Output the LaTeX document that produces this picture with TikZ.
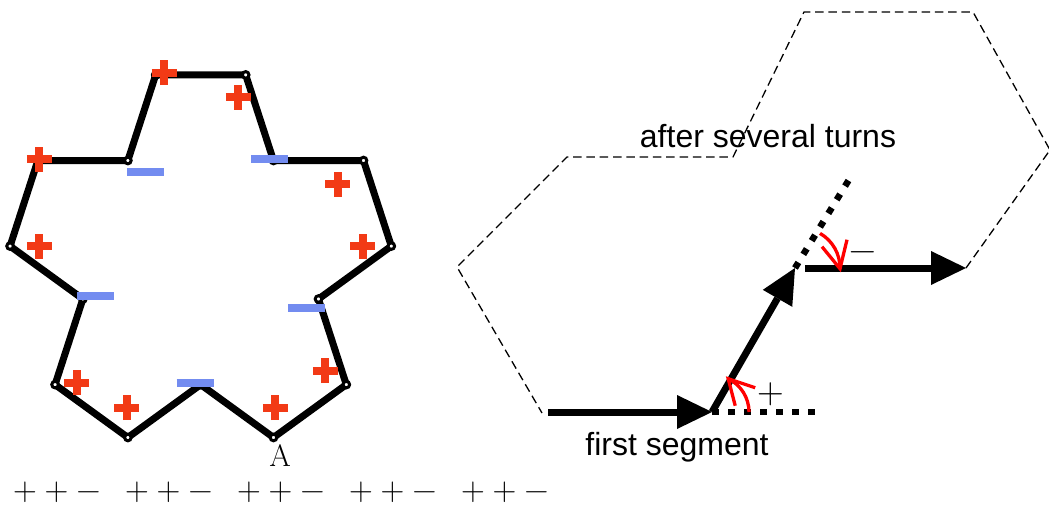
\documentclass[tikz,border=0pt]{standalone}
\usepackage{fontspec}
\newfontfamily\labelfont{Liberation Sans}
\usetikzlibrary{arrows.meta}
\definecolor{markred}{RGB}{242,58,22}
\definecolor{markblue}{RGB}{115,140,240}
\begin{document}
\begin{tikzpicture}[x=1pt,y=1pt,
  outline/.style={line width=7pt, line join=round},
  vring/.style={draw=black, fill=white, line width=3pt},
  plusmark/.style={draw=markred, line width=8pt},
  minusmark/.style={draw=markblue, line width=7.7pt},
  segarrow/.style={line width=7pt, -{Triangle[length=35pt,width=34pt,line width=0pt]}},
  extension/.style={line width=6.5pt, dash pattern=on 6.5pt off 9.5pt},
  trace/.style={line width=1.3pt, dash pattern=on 8.5pt off 4.8pt},
  turnline/.style={draw=red, line width=3.3pt, line join=miter},
  sans/.style={font=\labelfont\fontsize{32}{38}\selectfont},
  sign/.style={inner sep=0pt, anchor=base, font=\fontsize{#1}{#1}\selectfont},
]
\useasboundingbox (0,0) rectangle (1049,-505);

% ---- star made of fifteen equal edges, turning +72, +72, -72 ----
\coordinate (p0) at (273.5,-437.5);
\path (p0) ++(36:90) coordinate (p1) ++(108:90) coordinate (p2)
  ++(36:90) coordinate (p3) ++(108:90) coordinate (p4)
  ++(180:90) coordinate (p5) ++(108:90) coordinate (p6)
  ++(180:90) coordinate (p7) ++(252:90) coordinate (p8)
  ++(180:90) coordinate (p9) ++(252:90) coordinate (p10)
  ++(324:90) coordinate (p11) ++(252:90) coordinate (p12)
  ++(324:90) coordinate (p13) ++(36:90) coordinate (p14);
\draw[outline] (p0) -- (p1) -- (p2) -- (p3) -- (p4) -- (p5) -- (p6) -- (p7)
  -- (p8) -- (p9) -- (p10) -- (p11) -- (p12) -- (p13) -- (p14) -- cycle;
\foreach \i in {0,...,14} \draw[vring] (p\i) circle[radius=3.3pt];

% turn signs at the corners
\foreach \x/\y in {164/72.7, 238.3/97.3, 337.7/184.3, 362.7/246, 325.3/370.7,
                   275.3/407.7, 126.7/407.7, 76.7/382.7, 39.3/246, 39.3/159.3}
  \draw[plusmark] (\x,-\y) +(-12.5,0) -- +(12.5,0) +(0,-12.5) -- +(0,12.5);
\foreach \x/\y in {145.3/172, 269.3/159.3, 306.7/308.3, 195/382.7, 95.7/296}
  \draw[minusmark] (\x,-\y) +(-18.5,0) -- +(18.5,0);

\node[font=\fontsize{31}{31}\selectfont, anchor=base, inner sep=0pt] (labA) at (280,-466.5) {A};

% sequence of turns (baseline sits a quarter em below the sign's bar)
\foreach \g in {0,...,4} {
  \node[sign=33] (sa\g) at (25+112*\g,-500.5) {+};
  \node[sign=33] (sb\g) at (56.5+112*\g,-500.5) {+};
  \node[sign=33] (sc\g) at (88.5+112*\g,-500.5) {−};
}

% ---- path of the walk ----
\coordinate (s0) at (548,-412);
\coordinate (s1) at (712,-412);
\coordinate (s2) at (795,-268);
\coordinate (c2) at (800,-268);
\coordinate (s3) at (805,-268);
\coordinate (s4) at (966,-268);
\coordinate (e1) at (817,-412);
\coordinate (e2) at (850,-178);
\coordinate (t1) at (1050,-150);
\coordinate (t2) at (973,-12);
\coordinate (t3) at (804,-12);
\coordinate (t4) at (733,-157);
\coordinate (t5) at (567,-157);
\coordinate (t6) at (457,-267);
\coordinate (t7) at (542,-413);

\draw[trace] (s4) -- (t1) -- (t2) -- (t3) -- (t4) -- (t5) -- (t6) -- (t7);

\draw[extension] (s1) -- (e1);
\draw[extension] (s2) -- (e2);
\draw[segarrow] (s0) -- (s1);
\draw[segarrow] (s1) -- (s2);
\draw[segarrow] (s3) -- (s4);

% turn arcs with open arrowheads
\draw[turnline] (s1) ++(0:37) arc[start angle=0, end angle=64, radius=37] coordinate (tip1);
\draw[turnline] (tip1) ++(27,-9) -- (tip1) -- ++(7,-27);
\draw[turnline] (c2) ++(60:40) arc[start angle=60, end angle=-1, radius=40] coordinate (tip2);
\draw[turnline] (tip2) ++(7,29) -- (tip2) -- ++(-18,22);

\node[sign=37] (plusturn) at (770.5,-403.3) {+};
\node[sign=37] (minusturn) at (863,-261.3) {−};

\node[sans, anchor=base] (after) at (768,-148) {after several turns};
\node[sans, anchor=base] (first) at (677,-455) {first segment};
\end{tikzpicture}
\end{document}
